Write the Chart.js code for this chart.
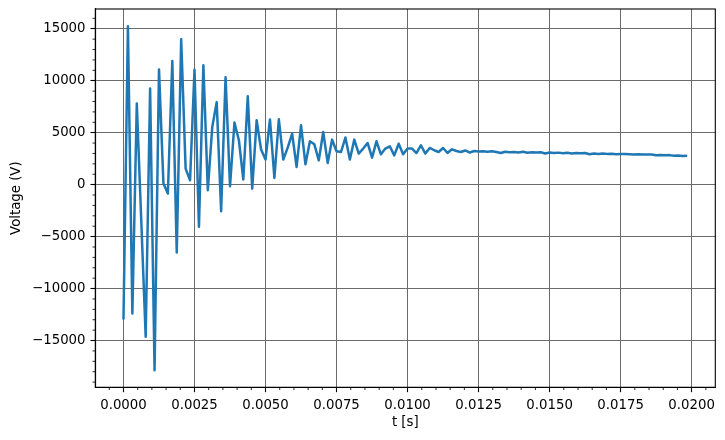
<!DOCTYPE html>
<html>
<head>
<meta charset="utf-8">
<script src="https://cdn.jsdelivr.net/npm/chart.js@4.4.1/dist/chart.umd.min.js"></script>
<style>
  html, body { margin: 0; padding: 0; background: #ffffff; }
  #wrap { width: 725px; height: 440px; }
</style>
</head>
<body>
<div id="wrap"><canvas id="c" width="725" height="440"></canvas></div>
<script>
// ---- data ----
const sampleStep = 0.00015625;   // s between samples
const voltage = [
  -12980, 15250, -12400, 7800, -3400, -14640, 9240, -17850, 11090, 100,
  -860, 11890, -6530, 13980, 1540, 420, 11060, -4060, 11480, -540,
  5540, 7940, -2560, 10340, -160, 5970, 4270, 490, 8500, -380,
  6190, 3370, 2410, 6260, 640, 6290, 2410, 3560, 4910, 1700,
  5710, 1960, 4170, 3880, 2340, 5070, 2090, 4330, 3210, 3140,
  4530, 2410, 4330, 2990, 3470, 4010, 2600, 4170, 2920, 3470,
  3690, 2820, 3940, 2920, 3470, 3470, 3040, 3790, 2990, 3530,
  3310, 3140, 3530, 3040, 3400, 3240, 3140, 3290, 3090, 3240,
  3190, 3220, 3160, 3210, 3140, 3040, 3170, 3120, 3140, 3090,
  3160, 3070, 3120, 3090, 3110, 2990, 3090, 3040, 3080, 3020,
  3070, 3000, 3040, 3030, 3050, 2920, 3000, 2950, 2990, 2960,
  2980, 2930, 2950, 2940, 2920, 2900, 2930, 2890, 2900, 2890,
  2820, 2860, 2820, 2840, 2790, 2810, 2760, 2780
];
const timeS = voltage.map((v, i) => i * sampleStep);
const xTickValues = [0, 0.0025, 0.005, 0.0075, 0.01, 0.0125, 0.015, 0.0175, 0.02];
const yTickValues = [-15000, -10000, -5000, 0, 5000, 10000, 15000];
const xMinorStep = 0.0005;
const yMinorStep = 1000;
const xLabel = 't [s]';
const yLabel = 'Voltage (V)';

// ---- chart ----
const FONT = 'DejaVu Sans';
const FS = 13.3;
Chart.defaults.font.family = FONT;
Chart.defaults.font.size = FS;
Chart.defaults.color = '#000000';

const points = timeS.map((t, i) => ({ x: t, y: voltage[i] }));

const frame = {
  id: 'frame',
  afterDraw(chart) {
    const ctx = chart.ctx;
    const a = chart.chartArea;
    const xs = chart.scales.x, ys = chart.scales.y;
    ctx.save();
    ctx.strokeStyle = '#000';
    ctx.lineWidth = 0.83;
    ctx.beginPath();
    for (let k = Math.ceil(xs.min / xMinorStep); k * xMinorStep <= xs.max; k++) {
      if (k % 5 === 0) continue;
      const px = xs.getPixelForValue(k * xMinorStep);
      ctx.moveTo(px, a.bottom);
      ctx.lineTo(px, a.bottom + 2.8);
    }
    for (let k = Math.ceil(ys.min / yMinorStep); k * yMinorStep <= ys.max; k++) {
      if (k % 5 === 0) continue;
      const py = ys.getPixelForValue(k * yMinorStep);
      ctx.moveTo(a.left, py);
      ctx.lineTo(a.left - 2.8, py);
    }
    ctx.stroke();
    ctx.lineWidth = 1.1;
    ctx.strokeRect(a.left, a.top, a.right - a.left, a.bottom - a.top);
    ctx.restore();
  }
};

function fmtMinus(s) { return s.replace('-', '\u2212'); }

new Chart(document.getElementById('c'), {
  type: 'line',
  data: {
    datasets: [{
      data: points,
      borderColor: '#1f77b4',
      borderWidth: 2.5,
      pointRadius: 0,
      tension: 0,
      borderJoinStyle: 'round',
      fill: false
    }]
  },
  options: {
    responsive: false,
    animation: false,
    devicePixelRatio: 1,
    layout: { padding: { top: 9, right: 9.7, left: 0, bottom: 0 } },
    plugins: { legend: { display: false }, tooltip: { enabled: false } },
    scales: {
      x: {
        type: 'linear',
        min: -0.000992,
        max: 0.020833,
        afterFit(s) { s.height = 52.7; s.paddingLeft = 0; s.paddingRight = 0; },
        afterBuildTicks(s) { s.ticks = xTickValues.map(v => ({ value: v })); },
        ticks: {
          autoSkip: false,
          maxRotation: 0,
          padding: 4.9,
          callback: v => fmtMinus(Number(v).toFixed(4))
        },
        grid: {
          color: '#6b6b6b',
          lineWidth: 1,
          tickColor: '#000',
          tickLength: 4.86,
          tickWidth: 1.1
        },
        border: { display: true, color: '#000', width: 1.1 },
        title: { display: true, text: xLabel, padding: { top: 0, bottom: 9 }, font: { size: FS } }
      },
      y: {
        type: 'linear',
        min: -19500,
        max: 16900,
        afterFit(s) { s.width = 95.3; s.paddingTop = 0; s.paddingBottom = 0; },
        afterBuildTicks(s) { s.ticks = yTickValues.map(v => ({ value: v })); },
        ticks: {
          autoSkip: false,
          padding: 4.9,
          callback: v => fmtMinus(String(v))
        },
        grid: {
          color: '#6b6b6b',
          lineWidth: 1,
          tickColor: '#000',
          tickLength: 4.86,
          tickWidth: 1.1
        },
        border: { display: true, color: '#000', width: 1.1 },
        title: { display: true, text: yLabel, padding: { top: 8.5, bottom: 0 }, font: { size: FS } }
      }
    }
  },
  plugins: [frame]
});
</script>
</body>
</html>
